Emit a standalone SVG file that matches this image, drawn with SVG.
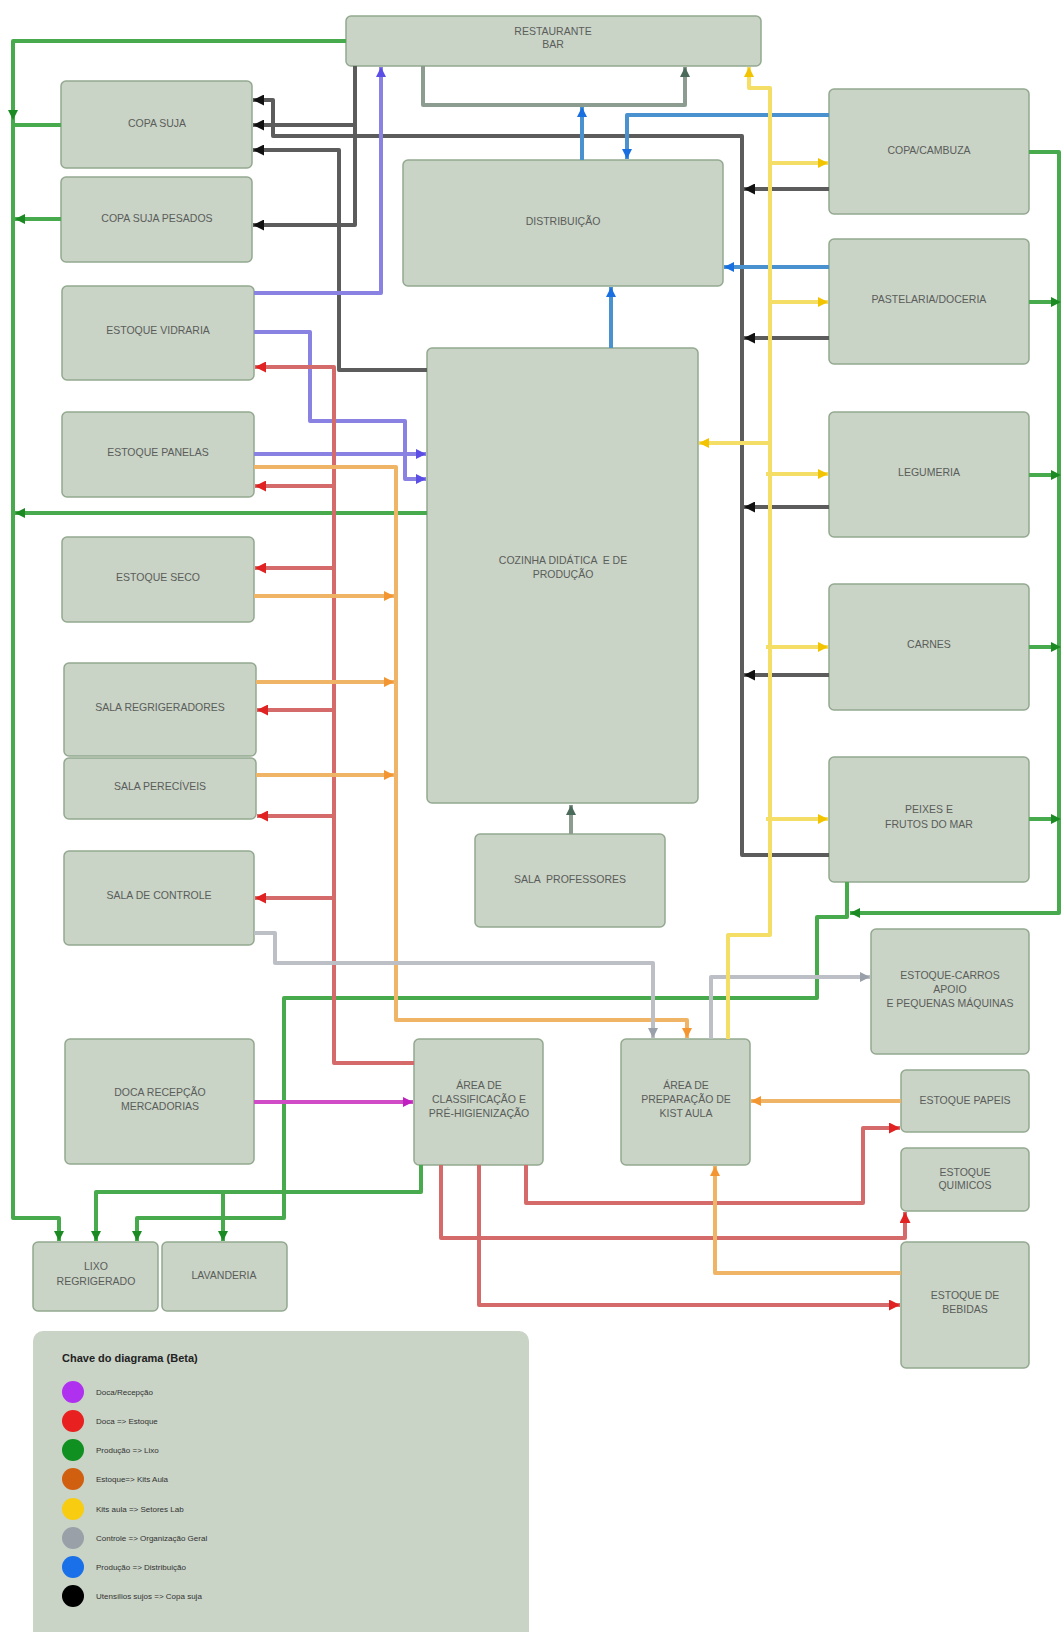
<svg xmlns="http://www.w3.org/2000/svg" width="1062" height="1632" viewBox="0 0 1062 1632">
<style>
.n rect{fill:#c9d3c6;stroke:#93a98f;stroke-width:1.5}
.n text{font-family:"Liberation Sans",Arial,sans-serif;font-size:10.5px;fill:#5a5d5a;text-anchor:middle;white-space:pre}
.c path{fill:none;stroke-linejoin:round;stroke-width:4}
.g{stroke:#47aa4c}
.k{stroke:#5c5c5c;stroke-width:5}
.b{stroke:#4a92cf}
.gl{stroke:#8c9c90;stroke-width:3}
.p{stroke:#8a82e2}
.r{stroke:#d46a6a}
.o{stroke:#f0b466}
.gy{stroke:#bcc0c6}
.y{stroke:#f5de66}
.m{stroke:#d04cc6}
.lt{font-family:"Liberation Sans",Arial,sans-serif;font-size:8px;fill:#333}
</style>
<defs>
<marker id="ag" viewBox="0 0 10 10" refX="10" refY="5" markerWidth="12" markerHeight="10" markerUnits="userSpaceOnUse" orient="auto"><path d="M0,0L10,5L0,10z" fill="#1b8a22"/></marker>
<marker id="ak" viewBox="0 0 10 10" refX="10" refY="5" markerWidth="13" markerHeight="11" markerUnits="userSpaceOnUse" orient="auto"><path d="M0,0L10,5L0,10z" fill="#111"/></marker>
<marker id="ab" viewBox="0 0 10 10" refX="10" refY="5" markerWidth="12" markerHeight="10" markerUnits="userSpaceOnUse" orient="auto"><path d="M0,0L10,5L0,10z" fill="#1a6fe0"/></marker>
<marker id="agl" viewBox="0 0 10 10" refX="10" refY="5" markerWidth="12" markerHeight="10" markerUnits="userSpaceOnUse" orient="auto"><path d="M0,0L10,5L0,10z" fill="#4a6a5a"/></marker>
<marker id="ap" viewBox="0 0 10 10" refX="10" refY="5" markerWidth="12" markerHeight="10" markerUnits="userSpaceOnUse" orient="auto"><path d="M0,0L10,5L0,10z" fill="#5a4ee6"/></marker>
<marker id="ar" viewBox="0 0 10 10" refX="10" refY="5" markerWidth="13" markerHeight="11" markerUnits="userSpaceOnUse" orient="auto"><path d="M0,0L10,5L0,10z" fill="#e02222"/></marker>
<marker id="ao" viewBox="0 0 10 10" refX="10" refY="5" markerWidth="12" markerHeight="10" markerUnits="userSpaceOnUse" orient="auto"><path d="M0,0L10,5L0,10z" fill="#f39530"/></marker>
<marker id="agy" viewBox="0 0 10 10" refX="10" refY="5" markerWidth="12" markerHeight="10" markerUnits="userSpaceOnUse" orient="auto"><path d="M0,0L10,5L0,10z" fill="#9aa0aa"/></marker>
<marker id="ay" viewBox="0 0 10 10" refX="10" refY="5" markerWidth="12" markerHeight="10" markerUnits="userSpaceOnUse" orient="auto"><path d="M0,0L10,5L0,10z" fill="#f2c400"/></marker>
<marker id="am" viewBox="0 0 10 10" refX="10" refY="5" markerWidth="12" markerHeight="10" markerUnits="userSpaceOnUse" orient="auto"><path d="M0,0L10,5L0,10z" fill="#c020c0"/></marker>
</defs>
<rect x="0" y="0" width="1062" height="1632" fill="#ffffff"/>

<g id="nodes">
<g id="restaurante" class="n"><rect x="346" y="16" width="415" height="50" rx="5"/><text x="553" y="35">RESTAURANTE</text><text x="553" y="48">BAR</text></g>
<g id="copa-suja" class="n"><rect x="61" y="81" width="191" height="87" rx="5"/><text x="157" y="127">COPA SUJA</text></g>
<g id="copa-suja-pesados" class="n"><rect x="61" y="177" width="191" height="85" rx="5"/><text x="157" y="222">COPA SUJA PESADOS</text></g>
<g id="estoque-vidraria" class="n"><rect x="62" y="286" width="192" height="94" rx="5"/><text x="158" y="334">ESTOQUE VIDRARIA</text></g>
<g id="estoque-panelas" class="n"><rect x="62" y="412" width="192" height="85" rx="5"/><text x="158" y="456">ESTOQUE PANELAS</text></g>
<g id="estoque-seco" class="n"><rect x="62" y="537" width="192" height="85" rx="5"/><text x="158" y="581">ESTOQUE SECO</text></g>
<g id="sala-refrigeradores" class="n"><rect x="64" y="663" width="192" height="93" rx="5"/><text x="160" y="711">SALA REGRIGERADORES</text></g>
<g id="sala-pereciveis" class="n"><rect x="64" y="758" width="192" height="61" rx="5"/><text x="160" y="790">SALA PERECÍVEIS</text></g>
<g id="sala-controle" class="n"><rect x="64" y="851" width="190" height="94" rx="5"/><text x="159" y="899">SALA DE CONTROLE</text></g>
<g id="doca" class="n"><rect x="65" y="1039" width="189" height="125" rx="5"/><text x="160" y="1096">DOCA RECEPÇÃO</text><text x="160" y="1110">MERCADORIAS</text></g>
<g id="lixo" class="n"><rect x="33" y="1242" width="125" height="69" rx="5"/><text x="96" y="1270">LIXO</text><text x="96" y="1285">REGRIGERADO</text></g>
<g id="lavanderia" class="n"><rect x="162" y="1242" width="125" height="69" rx="5"/><text x="224" y="1279">LAVANDERIA</text></g>
<g id="distribuicao" class="n"><rect x="403" y="160" width="320" height="126" rx="5"/><text x="563" y="225">DISTRIBUIÇÃO</text></g>
<g id="cozinha" class="n"><rect x="427" y="348" width="271" height="455" rx="5"/><text x="563" y="564" xml:space="preserve">COZINHA DIDÁTICA  E DE</text><text x="563" y="578">PRODUÇÃO</text></g>
<g id="sala-professores" class="n"><rect x="475" y="834" width="190" height="93" rx="5"/><text x="570" y="883" xml:space="preserve">SALA  PROFESSORES</text></g>
<g id="area-classificacao" class="n"><rect x="414" y="1039" width="129" height="126" rx="5"/><text x="479" y="1089">ÁREA DE</text><text x="479" y="1103">CLASSIFICAÇÃO E</text><text x="479" y="1117">PRÉ-HIGIENIZAÇÃO</text></g>
<g id="area-preparacao" class="n"><rect x="621" y="1039" width="129" height="126" rx="5"/><text x="686" y="1089">ÁREA DE</text><text x="686" y="1103">PREPARAÇÃO DE</text><text x="686" y="1117">KIST AULA</text></g>
<g id="copa-cambuza" class="n"><rect x="829" y="89" width="200" height="125" rx="5"/><text x="929" y="154">COPA/CAMBUZA</text></g>
<g id="pastelaria" class="n"><rect x="829" y="239" width="200" height="125" rx="5"/><text x="929" y="303">PASTELARIA/DOCERIA</text></g>
<g id="legumeria" class="n"><rect x="829" y="412" width="200" height="125" rx="5"/><text x="929" y="476">LEGUMERIA</text></g>
<g id="carnes" class="n"><rect x="829" y="584" width="200" height="126" rx="5"/><text x="929" y="648">CARNES</text></g>
<g id="peixes" class="n"><rect x="829" y="757" width="200" height="125" rx="5"/><text x="929" y="813">PEIXES E</text><text x="929" y="828">FRUTOS DO MAR</text></g>
<g id="estoque-carros" class="n"><rect x="871" y="929" width="158" height="125" rx="5"/><text x="950" y="979">ESTOQUE-CARROS</text><text x="950" y="993">APOIO</text><text x="950" y="1007">E PEQUENAS MÁQUINAS</text></g>
<g id="estoque-papeis" class="n"><rect x="901" y="1070" width="128" height="62" rx="5"/><text x="965" y="1104">ESTOQUE PAPEIS</text></g>
<g id="estoque-quimicos" class="n"><rect x="901" y="1148" width="128" height="63" rx="5"/><text x="965" y="1176">ESTOQUE</text><text x="965" y="1189">QUIMICOS</text></g>
<g id="estoque-bebidas" class="n"><rect x="901" y="1242" width="128" height="126" rx="5"/><text x="965" y="1299">ESTOQUE DE</text><text x="965" y="1313">BEBIDAS</text></g>
</g>

<g id="connectors" class="c">
<path class="g" d="M346,41H13V1218H59V1241" marker-end="url(#ag)"/>
<path class="g" d="M13,100V120" marker-end="url(#ag)"/>
<path class="g" d="M61,125H13"/>
<path class="g" d="M61,219H15" marker-end="url(#ag)"/>
<path class="g" d="M427,513H15" marker-end="url(#ag)"/>
<path class="g" d="M421,1165V1192H96V1241" marker-end="url(#ag)"/>
<path class="g" d="M223,1192V1241" marker-end="url(#ag)"/>
<path class="g" d="M847,882V917H817V998H284V1218H137V1241" marker-end="url(#ag)"/>
<path class="g" d="M1029,152H1059V913H850" marker-end="url(#ag)"/>
<path class="g" d="M1029,302H1061" marker-end="url(#ag)"/>
<path class="g" d="M1029,475H1061" marker-end="url(#ag)"/>
<path class="g" d="M1029,647H1061" marker-end="url(#ag)"/>
<path class="g" d="M1029,819H1061" marker-end="url(#ag)"/>
<path class="k" d="M829,855H742V136H273V100H253" marker-end="url(#ak)"/>
<path class="k" d="M829,189H744" marker-end="url(#ak)"/>
<path class="k" d="M829,338H744" marker-end="url(#ak)"/>
<path class="k" d="M829,507H744" marker-end="url(#ak)"/>
<path class="k" d="M829,675H744" marker-end="url(#ak)"/>
<path class="k" d="M355,66V225H253" marker-end="url(#ak)"/>
<path class="k" d="M355,125H253" marker-end="url(#ak)"/>
<path class="k" d="M427,370H339V150H253" marker-end="url(#ak)"/>
<path class="b" d="M582,160V107" marker-end="url(#ab)"/>
<path class="b" d="M829,115H627V159" marker-end="url(#ab)"/>
<path class="b" d="M829,267H724" marker-end="url(#ab)"/>
<path class="b" d="M611,348V287" marker-end="url(#ab)"/>
<path class="gl" d="M423,66V105H685V67" marker-end="url(#agl)"/>
<path class="gl" d="M571,834V805" marker-end="url(#agl)"/>
<path class="p" d="M254,293H381V67" marker-end="url(#ap)"/>
<path class="p" d="M254,332H310V421H405V479H426" marker-end="url(#ap)"/>
<path class="p" d="M254,454H426" marker-end="url(#ap)"/>
<path class="r" d="M414,1063H334V367H255" marker-end="url(#ar)"/>
<path class="r" d="M334,486H255" marker-end="url(#ar)"/>
<path class="r" d="M334,568H255" marker-end="url(#ar)"/>
<path class="r" d="M334,710H257" marker-end="url(#ar)"/>
<path class="r" d="M334,816H257" marker-end="url(#ar)"/>
<path class="r" d="M334,898H255" marker-end="url(#ar)"/>
<path class="r" d="M526,1165V1203H863V1128H900" marker-end="url(#ar)"/>
<path class="r" d="M441,1165V1238H905V1212" marker-end="url(#ar)"/>
<path class="r" d="M479,1165V1305H900" marker-end="url(#ar)"/>
<path class="o" d="M254,467H396V1020H687V1038" marker-end="url(#ao)"/>
<path class="o" d="M254,596H394" marker-end="url(#ao)"/>
<path class="o" d="M256,682H394" marker-end="url(#ao)"/>
<path class="o" d="M256,775H394" marker-end="url(#ao)"/>
<path class="o" d="M901,1101H751" marker-end="url(#ao)"/>
<path class="o" d="M901,1273H715V1166" marker-end="url(#ao)"/>
<path class="gy" d="M254,933H275V963H653V1038" marker-end="url(#agy)"/>
<path class="gy" d="M711,1039V977H870" marker-end="url(#agy)"/>
<path class="y" d="M728,1039V935H770V88H749V67" marker-end="url(#ay)"/>
<path class="y" d="M770,163H828" marker-end="url(#ay)"/>
<path class="y" d="M770,302H828" marker-end="url(#ay)"/>
<path class="y" d="M766,474H828" marker-end="url(#ay)"/>
<path class="y" d="M766,647H828" marker-end="url(#ay)"/>
<path class="y" d="M766,819H828" marker-end="url(#ay)"/>
<path class="y" d="M770,443H699" marker-end="url(#ay)"/>
<path class="m" d="M254,1102H413" marker-end="url(#am)"/>
</g>

<g id="legend">
<rect x="33" y="1331" width="496" height="320" rx="10" fill="#c9d3c6"/>
<text x="62" y="1362" font-family="Liberation Sans, Arial, sans-serif" font-size="11px" font-weight="bold" fill="#222">Chave do diagrama (Beta)</text>
<circle cx="73" cy="1392" r="11" fill="#b030f0"/><text class="lt" x="96" y="1395">Doca/Recepção</text>
<circle cx="73" cy="1421" r="11" fill="#e82020"/><text class="lt" x="96" y="1424">Doca =&gt; Estoque</text>
<circle cx="73" cy="1450" r="11" fill="#109020"/><text class="lt" x="96" y="1453">Produção =&gt; Lixo</text>
<circle cx="73" cy="1479" r="11" fill="#d06010"/><text class="lt" x="96" y="1482">Estoque=&gt; Kits Aula</text>
<circle cx="73" cy="1509" r="11" fill="#f8cc10"/><text class="lt" x="96" y="1512">Kits aula =&gt; Setores Lab</text>
<circle cx="73" cy="1538" r="11" fill="#9aa0a8"/><text class="lt" x="96" y="1541">Controle =&gt; Organização Geral</text>
<circle cx="73" cy="1567" r="11" fill="#1a70e8"/><text class="lt" x="96" y="1570">Produção =&gt; Distribuição</text>
<circle cx="73" cy="1596" r="11" fill="#000000"/><text class="lt" x="96" y="1599">Utensílios sujos =&gt; Copa suja</text>
</g>
</svg>
